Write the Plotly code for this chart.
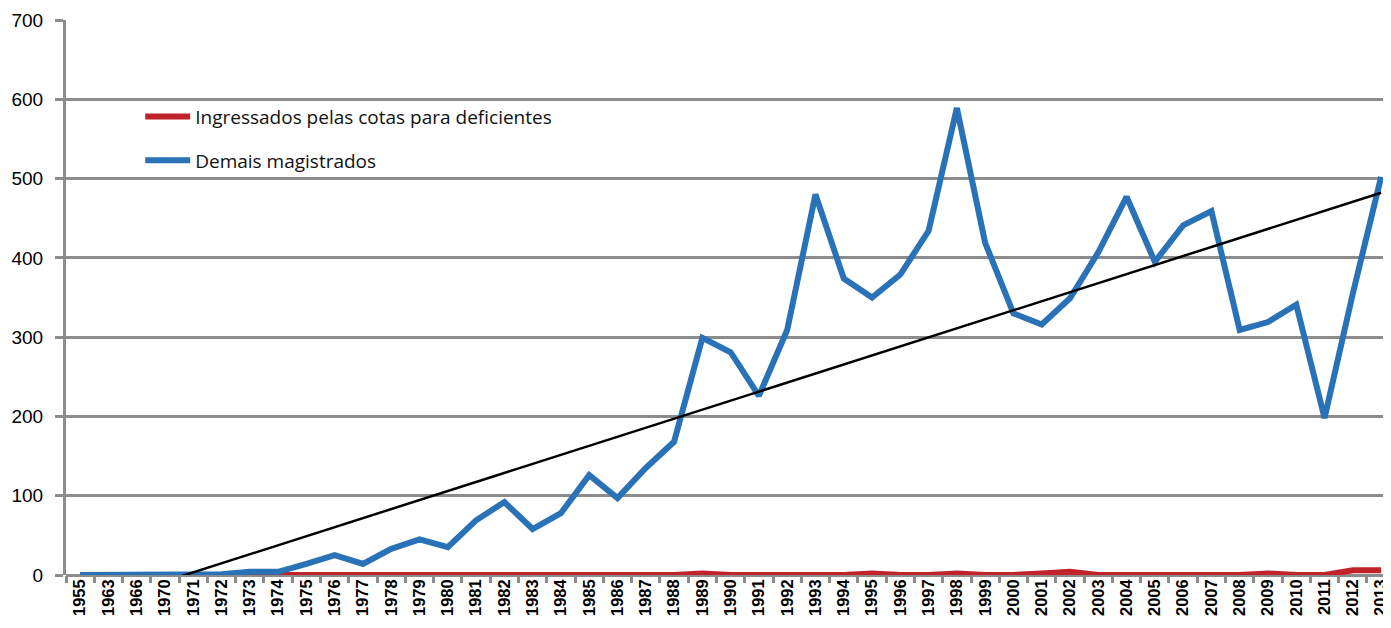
import numpy as np
import plotly.graph_objects as go

YEARS = [
    "1955", "1963", "1966", "1970", "1971", "1972", "1973", "1974", "1975", "1976",
    "1977", "1978", "1979", "1980", "1981", "1982", "1983", "1984", "1985", "1986",
    "1987", "1988", "1989", "1990", "1991", "1992", "1993", "1994", "1995", "1996",
    "1997", "1998", "1999", "2000", "2001", "2002", "2003", "2004", "2005", "2006",
    "2007", "2008", "2009", "2010", "2011", "2012", "2013",
]

COTAS_DEFICIENTES = [
    0, 0, 0, 0, 0, 0, 0, 0, 0, 0,
    0, 0, 0, 0, 0, 0, 0, 0, 0, 0,
    0, 0, 2, 0, 0, 0, 0, 0, 2, 0,
    0, 2, 0, 0, 2, 4, 0, 0, 0, 0,
    0, 0, 2, 0, 0, 6, 6,
]

DEMAIS = [
    0, 0, 0, 0, 0, 1, 4, 4, 14, 25,
    14, 33, 45, 35, 69, 92, 58, 78, 126, 97,
    135, 168, 299, 281, 226, 309, 480, 374, 350, 379,
    434, 589, 419, 330, 316, 349, 407, 477, 395, 441,
    459, 309, 319, 341, 198, 355, 502,
]

GRID = "#8c8c8c"

# linear trend of the "Demais" series (Excel-style trendline)
idx = np.arange(len(YEARS))
slope, intercept = np.polyfit(idx, DEMAIS, 1)
trend = slope * idx + intercept

fig = go.Figure()
fig.add_trace(go.Scatter(
    x=YEARS, y=COTAS_DEFICIENTES, name="Ingressados pelas cotas para deficientes",
    mode="lines", line=dict(color="#c1232b", width=6), legendgroup="a",
))
fig.add_trace(go.Scatter(
    x=YEARS, y=DEMAIS, name="Demais magistrados",
    mode="lines", line=dict(color="#2a72b8", width=6), legendgroup="b",
))
fig.add_trace(go.Scatter(
    x=YEARS, y=trend, mode="lines", showlegend=False,
    line=dict(color="#000000", width=2.5), hoverinfo="skip",
))

# page body keeps an 8px margin, so the figure is 8px smaller than the window
fig.update_layout(
    width=1383, height=620,
    paper_bgcolor="white", plot_bgcolor="white",
    margin=dict(l=58, r=0, t=12, b=53),
    font=dict(family="Liberation Sans, Arial, sans-serif", color="#1a1a1a", size=16),
    legend=dict(
        x=0.056, y=0.86, xanchor="left", yanchor="top",
        bgcolor="rgba(0,0,0,0)", font=dict(family="Open Sans, sans-serif", size=19, color="#111"),
        tracegroupgap=16, traceorder="grouped", itemwidth=45,
    ),
    xaxis=dict(
        type="category", range=[-0.5, 46.35], tickangle=-90,
        tickson="boundaries", ticks="outside", ticklen=7, tickwidth=3, tickcolor=GRID,
        showgrid=False, showline=False, zeroline=False,
        tickfont=dict(family="Liberation Sans, Arial, sans-serif", size=16.5, color="#000",
                      weight="bold"),
    ),
    yaxis=dict(
        range=[0, 700], dtick=100, showgrid=True, gridcolor=GRID, gridwidth=3,
        showline=True, linecolor=GRID, linewidth=3, ticks="outside", ticklen=8,
        tickwidth=3, tickcolor=GRID, zeroline=True, zerolinecolor=GRID, zerolinewidth=3,
        ticklabelstandoff=8,
        tickfont=dict(family="Liberation Sans, Arial, sans-serif", size=19, color="#000"),
    ),
)

fig.write_html("out.html")
